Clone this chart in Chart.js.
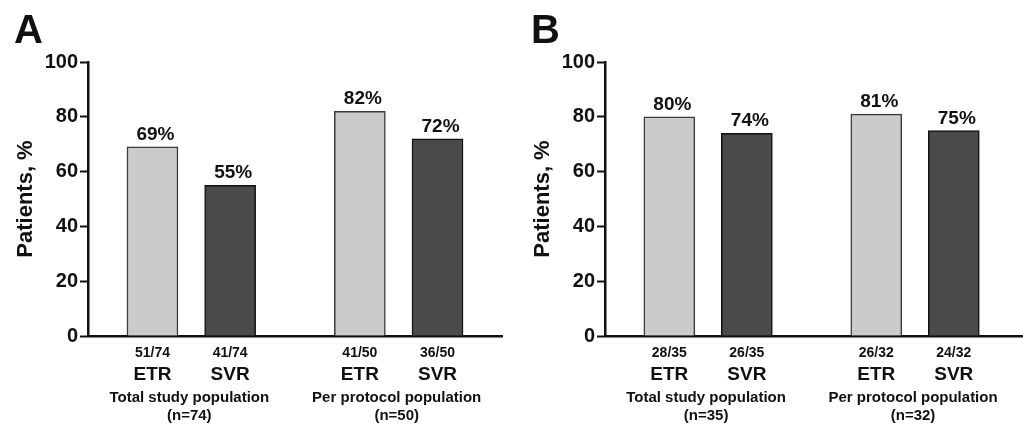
<!DOCTYPE html>
<html>
<head>
<meta charset="utf-8">
<script src="https://cdn.jsdelivr.net/npm/chart.js@4"></script>
<style>
  html,body{margin:0;padding:0;background:#fff;width:1023px;height:427px;overflow:hidden;}
  .panel{position:absolute;top:0;height:427px;}
  .letter{position:absolute;font-family:"Liberation Sans",Arial,sans-serif;font-weight:bold;font-size:40px;line-height:1;color:#111;}
</style>
</head>
<body>
<div class="panel" id="pA" style="left:0;width:515px;"><canvas id="cA" width="515" height="427"></canvas></div>
<div class="panel" id="pB" style="left:517px;width:506px;"><canvas id="cB" width="506" height="427"></canvas></div>
<div class="letter" style="left:14px;top:9px;">A</div>
<div class="letter" style="left:531px;top:9px;">B</div>
<script>
// ---- data ----
const categories = ['ETR', 'SVR'];
const groupsA = ['Total study population', 'Per protocol population'];
const groupNA = ['(n=74)', '(n=50)'];
const etrA = [69, 82];
const svrA = [55, 72];
const etrFracA = ['51/74', '41/50'];
const svrFracA = ['41/74', '36/50'];

const groupsB = ['Total study population', 'Per protocol population'];
const groupNB = ['(n=35)', '(n=32)'];
const etrB = [80, 81];
const svrB = [74, 75];
const etrFracB = ['28/35', '26/32'];
const svrFracB = ['26/35', '24/32'];

const yTicks = [0, 20, 40, 60, 80, 100];

const FONT = '"Liberation Sans", Arial, sans-serif';
const TXT = '#111';

function makeChart(canvasId, groups, groupN, etr, svr, etrFrac, svrFrac, rightPad, xMax) {
  const groupStep = 2.67; // group spacing in x-units
  const pos = (g, b) => g * groupStep + b;
  const etrData = etr.map((v, g) => ({x: pos(g, 0), y: v}));
  const svrData = svr.map((v, g) => ({x: pos(g, 1), y: v}));
  const fracs = [etrFrac, svrFrac];

  const labelPlugin = {
    id: 'labels',
    afterDatasetsDraw(chart) {
      const ctx = chart.ctx;
      const xs = chart.scales.x;
      const ys = chart.scales.y;
      const base = ys.getPixelForValue(0);
      ctx.save();
      ctx.fillStyle = TXT;
      ctx.textAlign = 'center';
      chart.data.datasets.forEach((ds, di) => {
        const meta = chart.getDatasetMeta(di);
        meta.data.forEach((bar, i) => {
          ctx.font = 'bold 19px ' + FONT;
          ctx.textBaseline = 'alphabetic';
          ctx.fillText(ds.data[i].y + '%', bar.x + 3, bar.y - 7);
          ctx.textBaseline = 'middle';
          ctx.font = 'bold 14px ' + FONT;
          ctx.fillText(fracs[di][i], bar.x, base + 17);
          ctx.font = 'bold 19px ' + FONT;
          ctx.fillText(categories[di], bar.x, base + 39);
        });
      });
      groups.forEach((g, gi) => {
        const cx = (xs.getPixelForValue(pos(gi, 0)) + xs.getPixelForValue(pos(gi, 1))) / 2 - 2;
        ctx.font = 'bold 15px ' + FONT;
        ctx.textBaseline = 'middle';
        ctx.fillText(g, cx, base + 62);
        ctx.fillText(groupN[gi], cx, base + 80);
      });
      ctx.restore();
    }
  };

  return new Chart(document.getElementById(canvasId), {
    type: 'bar',
    data: {
      datasets: [
        {label: categories[0], data: etrData, backgroundColor: '#cbcbcb', borderColor: '#3a3a3a', borderWidth: 1.5, grouped: false, barThickness: 51},
        {label: categories[1], data: svrData, backgroundColor: '#4a4a4a', borderColor: '#111', borderWidth: 1.5, grouped: false, barThickness: 51}
      ]
    },
    options: {
      responsive: false,
      animation: false,
      events: [],
      layout: {padding: {top: 62, right: rightPad, bottom: 0, left: 0}},
      plugins: {legend: {display: false}, tooltip: {enabled: false}},
      scales: {
        x: {
          type: 'linear',
          offset: false,
          min: -0.83,
          max: xMax,
          ticks: {display: false},
          grid: {display: false},
          border: {display: true, color: '#111', width: 2.5},
          afterFit(scale) { scale.height = 91; }
        },
        y: {
          min: 0,
          max: 100,
          afterBuildTicks(scale) { scale.ticks = yTicks.map(v => ({value: v})); },
          ticks: {color: TXT, font: {family: FONT, size: 20, weight: 'bold'}, padding: 2},
          grid: {drawOnChartArea: false, drawTicks: true, tickLength: 8, color: '#111', tickWidth: 2},
          border: {display: true, color: '#111', width: 2.5},
          title: {display: true, text: 'Patients, %', color: TXT, font: {family: FONT, size: 22, weight: 'bold'}, padding: {top: 13, bottom: 0}},
          afterFit(scale) { scale.width = 88; }
        }
      }
    },
    plugins: [labelPlugin]
  });
}

makeChart('cA', groupsA, groupNA, etrA, svrA, etrFracA, svrFracA, 13, 4.5);
makeChart('cB', groupsB, groupNB, etrB, svrB, etrFracB, svrFracB, 1, 4.55);
</script>
</body>
</html>
